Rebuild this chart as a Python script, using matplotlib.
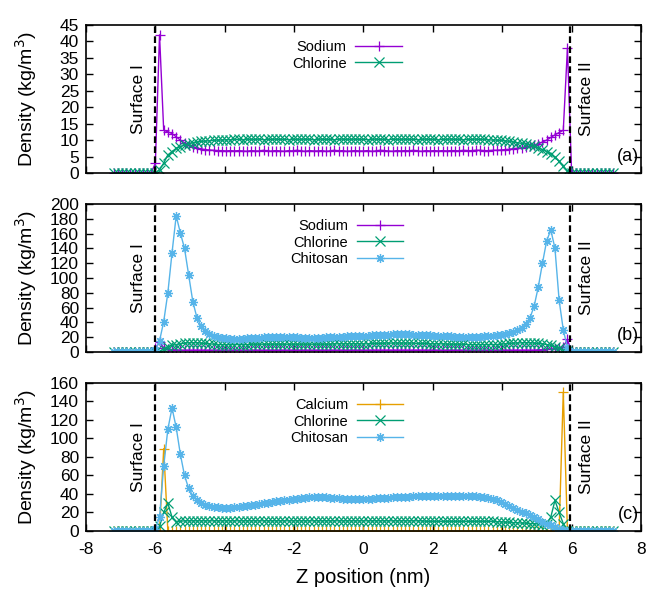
import numpy as np
from matplotlib import pyplot as plt

plt.rcParams['font.family'] = ['Liberation Sans', 'DejaVu Sans']
plt.rcParams['axes.unicode_minus'] = False

# z bins (nm), 0.12 nm wide, from -7.2 to 7.2
z_pos = np.round(np.linspace(-7.2, 7.2, 121), 2)

edge_left = [0] * 10
edge_right = [0] * 11

# panel (a): NaCl
sodium_a = edge_left + [
    3, 42, 13, 12.5, 12, 11, 10, 9.2, 8.5, 8,
    7.6, 7.3, 7.1, 7.0, 6.9, 6.8, 6.8, 6.7, 6.8, 6.7,
    6.8, 6.7, 6.6, 6.8, 6.7, 6.7, 6.9, 6.6, 6.7, 6.8,
    6.7, 6.6, 6.8, 6.7, 6.9, 6.7, 6.6, 6.8, 6.7, 6.7,
    6.8, 6.6, 6.7, 6.9, 6.7, 6.8, 6.6, 6.7, 6.8, 6.7,
    6.7, 6.8, 6.6, 6.7, 6.9, 6.8, 6.7, 6.6, 6.8, 6.7,
    6.8, 6.7, 6.9, 6.7, 6.6, 6.8, 6.7, 6.8, 6.7, 6.8,
    6.7, 6.8, 6.8, 6.7, 6.9, 6.8, 6.8, 6.9, 6.9, 6.8,
    6.8, 6.9, 6.9, 7.0, 7.1, 7.2, 7.4, 7.5, 7.7, 7.9,
    8.2, 8.5, 8.9, 9.4, 10, 10.8, 11.6, 12.3, 13, 38,
] + edge_right
chlorine_a = edge_left + [
    0, 1, 3, 5.5, 6.5, 7.5, 8, 8.5, 8.9, 9.2,
    9.4, 9.6, 9.7, 9.8, 9.9, 10, 10, 10.1, 10.1, 10.2,
    10.2, 10.1, 10.3, 10.2, 10.2, 10.3, 10.1, 10.2, 10.2, 10.3,
    10.2, 10.2, 10.1, 10.3, 10.2, 10.2, 10.3, 10.2, 10.1, 10.2,
    10.3, 10.2, 10.2, 10.1, 10.2, 10.3, 10.2, 10.2, 10.3, 10.2,
    10.2, 10.1, 10.2, 10.3, 10.2, 10.2, 10.1, 10.3, 10.2, 10.2,
    10.3, 10.2, 10.2, 10.1, 10.2, 10.3, 10.2, 10.2, 10.1, 10.2,
    10.2, 10.3, 10.2, 10.2, 10.1, 10.2, 10.2, 10.3, 10.2, 10.2,
    10.1, 10.0, 10.0, 9.9, 9.8, 9.6, 9.4, 9.2, 9.0, 8.8,
    8.5, 8.1, 7.6, 7.1, 6.5, 5.8, 4.8, 3.5, 2, 0.5,
] + edge_right

# panel (b): NaCl + chitosan
sodium_b = edge_left + [
    5, 13, 6, 4, 3, 3, 2.5, 2.5, 2.5, 2.5,
    2.5, 2.5, 2.5, 2.5, 2.5, 2.5, 2.5, 2.5, 2.5, 2.5,
    2.5, 2.5, 2.5, 2.5, 2.5, 2.5, 2.5, 2.5, 2.5, 2.5,
    2.5, 2.5, 2.5, 2.5, 2.5, 2.5, 2.5, 2.5, 2.5, 2.5,
    2.5, 2.5, 2.5, 2.5, 2.5, 2.5, 2.5, 2.5, 2.5, 2.5,
    2.5, 2.5, 2.5, 2.5, 2.5, 2.5, 2.5, 2.5, 2.5, 2.5,
    2.5, 2.5, 2.5, 2.5, 2.5, 2.5, 2.5, 2.5, 2.5, 2.5,
    2.5, 2.5, 2.5, 2.5, 2.5, 2.5, 2.5, 2.5, 2.5, 2.5,
    2.5, 2.5, 2.5, 2.5, 2.5, 2.5, 2.5, 2.5, 2.5, 2.5,
    2.5, 2.5, 3, 3, 3.5, 4, 4.5, 5, 7, 17,
] + edge_right
chlorine_b = edge_left + [
    0, 1, 4, 7, 9, 10, 11, 12, 12.5, 12.5,
    12.5, 12, 11.5, 11, 10.5, 10, 10, 10, 10, 10,
    10, 10, 10, 10.5, 10.5, 10.5, 10.5, 10.5, 10.5, 10.5,
    10.5, 10.5, 10.5, 10.5, 10.5, 10.5, 10.5, 10.5, 10.5, 10.5,
    10.5, 10.5, 10.5, 11, 11, 11, 11, 11, 11, 11,
    11, 11, 11.5, 11.5, 11.5, 12, 12, 12, 12, 12,
    12, 12, 12, 11.5, 11.5, 11.5, 11, 11, 11, 11,
    10.5, 10.5, 10.5, 10.5, 10.5, 10, 10, 10, 10, 10,
    10, 10, 10, 10.5, 11, 11.5, 12, 12, 12.5, 12.5,
    12.5, 12, 11.5, 11, 10, 9, 7, 5, 3, 1,
] + edge_right
chitosan_b = edge_left + [
    3, 15, 41, 80, 134, 184, 161, 140, 104, 68,
    46, 35, 28, 24, 21, 20, 19, 18.5, 18, 18,
    18, 18, 18.5, 19, 19, 19.5, 20, 20, 20, 20.5,
    20.5, 20.5, 20, 20, 20, 19.5, 19.5, 19.5, 19.5, 19.5,
    19.5, 20, 20, 20, 20.5, 20.5, 21, 21, 21.5, 21.5,
    22, 22, 22.5, 23, 23, 23.5, 23.5, 24, 24, 24,
    24, 24, 23.5, 23.5, 23, 23, 22.5, 22, 22, 21.5,
    21, 21, 20.5, 20.5, 20, 20, 20, 20, 20.5, 21,
    21.5, 22, 22.5, 23, 24, 25, 27, 30, 33, 38,
    46, 62, 88, 120, 150, 165, 140, 70, 30, 6,
] + edge_right

# panel (c): CaCl2 + chitosan
calcium_c = edge_left + [
    0, 0, 89, 0, 0, 0, 0, 0, 0, 0,
    0, 0, 0, 0, 0, 0, 0, 0, 0, 0,
    0, 0, 0, 0, 0, 0, 0, 0, 0, 0,
    0, 0, 0, 0, 0, 0, 0, 0, 0, 0,
    0, 0, 0, 0, 0, 0, 0, 0, 0, 0,
    0, 0, 0, 0, 0, 0, 0, 0, 0, 0,
    0, 0, 0, 0, 0, 0, 0, 0, 0, 0,
    0, 0, 0, 0, 0, 0, 0, 0, 0, 0,
    0, 0, 0, 0, 0, 0, 0, 0, 0, 0,
    0, 0, 0, 0, 0, 0, 2, 0, 150, 0,
] + edge_right
chlorine_c = edge_left + [
    0, 5, 20, 30, 15, 10, 10.5, 11, 11, 11,
    11, 11, 11, 11, 11, 11, 11, 11, 11, 11,
    11, 11, 11, 11, 11, 11, 11, 11, 11, 11,
    11, 11, 11, 11, 11, 11, 11, 11, 11, 11,
    11, 11, 11, 11, 11, 11, 11, 11, 11, 11,
    11, 11, 11, 11, 11, 11, 11, 11, 11, 11,
    11, 11, 11, 11, 11, 10.5, 10.5, 10.5, 10.5, 10.5,
    10.5, 10.5, 10.5, 10.5, 10.5, 10.5, 10.5, 10.5, 10.5, 10.5,
    10.5, 10.5, 10, 10, 9.5, 9.5, 9, 9, 8.5, 8.5,
    8, 8, 7.5, 7, 8, 15, 33, 20, 8, 0,
] + edge_right
chitosan_c = edge_left + [
    2, 15, 70, 110, 133, 112, 83, 60, 46, 38,
    33, 30, 28, 27, 26, 25.5, 25, 25, 25, 25.5,
    26, 26.5, 27, 28, 28.5, 29, 30, 30.5, 31, 32,
    32.5, 33, 34, 34.5, 35, 35.5, 36, 36.5, 37, 37,
    37, 36.5, 36, 36, 35.5, 35, 35, 35, 34.5, 34.5,
    34.5, 35, 35, 35.5, 35.5, 36, 36, 36.5, 36.5, 37,
    37, 37, 37.5, 37.5, 37.5, 38, 38, 38, 38, 38,
    38, 38, 38, 38, 38, 38, 37.5, 37.5, 37, 37,
    36, 34.5, 33, 31, 29, 27, 25, 23, 21, 19,
    17, 15, 12.5, 10, 8, 6, 4, 2.5, 1.5, 0.5,
] + edge_right

surface_1 = -6.0
surface_2 = 5.95

c_sodium = '#9400d3'
c_chlorine = '#009e73'
c_chitosan = '#56b4e9'
c_calcium = '#e69f00'
asterisk = (8, 2, 0)

panels = [
    ('(a)', [('Sodium', sodium_a, c_sodium, '+'), ('Chlorine', chlorine_a, c_chlorine, 'x')],
     45, 5),
    ('(b)', [('Sodium', sodium_b, c_sodium, '+'), ('Chlorine', chlorine_b, c_chlorine, 'x'),
             ('Chitosan', chitosan_b, c_chitosan, asterisk)], 200, 20),
    ('(c)', [('Calcium', calcium_c, c_calcium, '+'), ('Chlorine', chlorine_c, c_chlorine, 'x'),
             ('Chitosan', chitosan_c, c_chitosan, asterisk)], 160, 20),
]

fig = plt.figure(figsize=(6.51, 5.89), dpi=100)
bottoms = [0.7063, 0.4024, 0.0985]

for k, (tag, series, ymax, ystep) in enumerate(panels):
    ax = fig.add_axes([0.1321, bottoms[k], 0.8525, 0.2513])
    for name, vals, col, mk in series:
        ax.plot(z_pos, vals, color=col, lw=1.0, marker=mk, ms=6.5, mew=0.9, label=name)
    ax.axvline(surface_1, color='black', lw=1.6, ls=(0, (3, 1.5)), zorder=5)
    ax.axvline(surface_2, color='black', lw=1.6, ls=(0, (3, 1.5)), zorder=5)
    ax.text(-6.5, ymax * 0.5, 'Surface I', rotation=90, ha='center', va='center', fontsize=12.5)
    ax.text(6.42, ymax * 0.5, 'Surface II', rotation=90, ha='center', va='center', fontsize=12.5)
    ax.text(0.997, 0.11, tag, transform=ax.transAxes, ha='right', va='center', fontsize=13)

    ax.set_xlim(-8, 8)
    ax.set_ylim(0, ymax)
    ax.set_xticks(np.arange(-8, 9, 2))
    ax.set_yticks(np.arange(0, ymax + 1, ystep))
    ax.tick_params(direction='in', top=True, right=True, length=5, width=1, labelsize=12.5, pad=5)
    ax.tick_params(axis='x', pad=8)
    if k < 2:
        ax.tick_params(labelbottom=False)
    for sp in ax.spines.values():
        sp.set_linewidth(1.2)
    ax.set_ylabel('Density (kg/m$^3$)', fontsize=14)
    ax.yaxis.set_label_coords(-0.085, 0.5)
    ax.legend(loc='upper center', bbox_to_anchor=(0.47, 0.97), frameon=False, markerfirst=False,
              handlelength=3.2, fontsize=10.5, labelspacing=0.2, borderpad=0.2, handletextpad=0.6)
    if k == 2:
        ax.set_xlabel('Z position (nm)', fontsize=14.5, labelpad=8)

fig.savefig('out.png', dpi=100)
